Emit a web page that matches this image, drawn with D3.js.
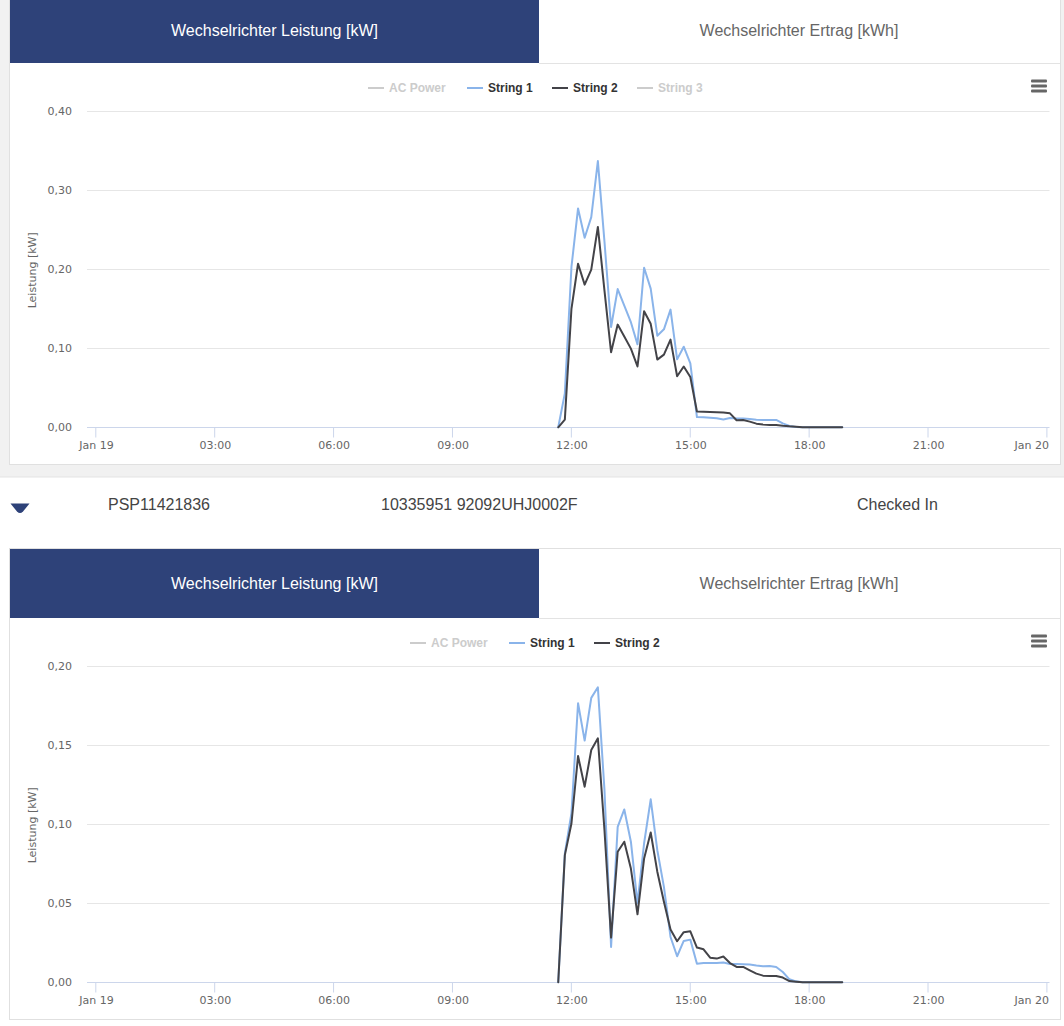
<!DOCTYPE html>
<html>
<head>
<meta charset="utf-8">
<script src="https://cdn.jsdelivr.net/npm/d3@7"></script>
<style>
  html, body { margin: 0; padding: 0; background: #fff; overflow: hidden; }
  svg { display: block; }
  .tab { font: 16px "Liberation Sans", Arial, sans-serif; text-anchor: middle; }
  .row { font: 16px "Liberation Sans", Arial, sans-serif; fill: #444; }
  .legend { font: bold 12px "Liberation Sans", Arial, sans-serif; }
  .tick text, .ytitle { font: 11px "DejaVu Sans", sans-serif; fill: #666; }
</style>
</head>
<body>
<svg id="page" width="1064" height="1026"></svg>
<script>
const TAB_LABELS = ['Wechselrichter Leistung [kW]', 'Wechselrichter Ertrag [kWh]'];
const ROW_LABELS = ['PSP11421836', '10335951 92092UHJ0002F', 'Checked In'];
const Y_TITLE = 'Leistung [kW]';

// one reading every 10 minutes, first one at 11:40
const TOP_STRING_1 = [0, .043, .203, .277, .240, .266, .337, .235, .127, .175, .154, .133, .105, .202, .1755, .116, .124, .149, .086, .102, .081,
  .013, .0127, .012, .0114, .010, .0118, .011, .011, .0105, .0097, .0093, .0093, .0093, .005, .0017, .0004, 0, 0, 0, 0, 0, 0, 0];
const TOP_STRING_2 = [0, .0097, .150, .207, .1806, .1996, .2536, .173, .095, .130, .115, .0996, .077, .147, .131, .0857, .092, .111, .0646, .077, .0637,
  .0200, .0198, .0194, .019, .0186, .0177, .0089, .0093, .0072, .0046, .0034, .003, .003, .002, .0013, .0008, .0002, 0, 0, 0, 0, 0, 0];
const BOTTOM_STRING_1 = [0, .0815, .107, .1766, .153, .180, .1867, .1217, .0224, .0984, .1094, .089, .05, .088, .1158, .0836, .0604, .0287, .0165, .0262, .027,
  .0118, .0122, .0122, .0122, .0125, .0116, .0116, .0114, .0112, .0106, .0101, .0103, .0097, .0065, .0019, .0006, 0, 0, 0, 0, 0, 0, 0];
const BOTTOM_STRING_2 = [0, .0805, .1005, .1432, .1238, .147, .1544, .0963, .0283, .0826, .089, .072, .043, .0784, .0948, .07, .051, .0334, .026, .0317, .0323,
  .022, .0209, .0156, .015, .0163, .0122, .0097, .0097, .0076, .0055, .0042, .004, .004, .003, .0008, .0004, 0, 0, 0, 0, 0, 0, 0];

const TOP_Y_TICKS = [0, .1, .2, .3, .4];
const BOTTOM_Y_TICKS = [0, .05, .1, .15, .2];
const TOP_LEGEND = ['AC Power', 'String 1', 'String 2', 'String 3'];
const BOTTOM_LEGEND = ['AC Power', 'String 1', 'String 2'];

const NAVY = '#2e4279';
const SERIES_COLOR = { 'String 1': '#8ab4ea', 'String 2': '#434348' };

const firstReading = new Date(Date.UTC(2020, 0, 19, 11, 40));
const dayStart = new Date(Date.UTC(2020, 0, 19));
const dayEnd = new Date(Date.UTC(2020, 0, 20));

const x = d3.scaleUtc().domain([dayStart, dayEnd]).range([95.3, 1046.4]);
const fmtComma = d3.format('.2f');
const xTickFormat = d => +d === +dayStart ? 'Jan 19' : +d === +dayEnd ? 'Jan 20' : d3.utcFormat('%H:%M')(d);

const svg = d3.select('#page');

function drawTabs(g, height, textY) {
  g.append('rect').attr('x', 10).attr('y', 0).attr('width', 529).attr('height', height).attr('fill', NAVY);
  g.append('rect').attr('x', 539).attr('y', 0).attr('width', 521).attr('height', height).attr('fill', '#fff');
  g.append('line').attr('x1', 539).attr('x2', 1060).attr('y1', height + .5).attr('y2', height + .5).attr('stroke', '#e3e3e3');
  g.append('text').attr('class', 'tab').attr('x', 274.5).attr('y', textY).attr('fill', '#fff').text(TAB_LABELS[0]);
  g.append('text').attr('class', 'tab').attr('x', 799).attr('y', textY).attr('fill', '#666').text(TAB_LABELS[1]);
}

function drawChart(cfg) {
  const y = d3.scaleLinear().domain([0, cfg.yTicks[cfg.yTicks.length - 1]]).range([cfg.y0, cfg.y1]);

  const grid = svg.append('g');
  grid.selectAll('line').data(cfg.yTicks.slice(1)).join('line')
    .attr('x1', 87).attr('x2', 1049.5)
    .attr('y1', d => Math.round(y(d)) + .5).attr('y2', d => Math.round(y(d)) + .5)
    .attr('stroke', '#e6e6e6');

  const yAxis = svg.append('g').attr('transform', 'translate(87,0)')
    .call(d3.axisLeft(y).tickValues(cfg.yTicks).tickSize(0).tickPadding(15)
      .tickFormat(d => fmtComma(d).replace('.', ',')));
  yAxis.select('.domain').remove();

  const xAxis = svg.append('g').attr('transform', `translate(0,${Math.round(cfg.y0) + .5})`)
    .call(d3.axisBottom(x).tickValues(d3.utcHour.range(dayStart, d3.utcHour.offset(dayEnd, 1), 3))
      .tickSize(10).tickPadding(4).tickFormat(xTickFormat));
  xAxis.select('.domain').attr('d', 'M87,0H1049.5').attr('stroke', '#ccd6eb');
  xAxis.selectAll('.tick line').attr('stroke', '#ccd6eb');
  xAxis.selectAll('.tick text').attr('dx', .6);
  xAxis.selectAll('.tick text').filter(d => +d === +dayEnd).attr('text-anchor', 'end').attr('dx', 2);

  svg.append('text').attr('class', 'ytitle')
    .attr('transform', `translate(36,${(cfg.y0 + cfg.y1) / 2 + 1}) rotate(-90)`)
    .attr('text-anchor', 'middle').text(Y_TITLE);

  const line = d3.line()
    .x((d, i) => x(d3.utcMinute.offset(firstReading, i * 10)) + .6)
    .y(d => y(d));
  cfg.series.forEach(s => {
    svg.append('path').datum(s.values)
      .attr('d', line).attr('fill', 'none')
      .attr('stroke', SERIES_COLOR[s.name]).attr('stroke-width', 2)
      .attr('stroke-linejoin', 'round').attr('stroke-linecap', 'round');
  });

  // legend, hidden series are greyed out
  const legend = svg.append('g').attr('class', 'legend');
  cfg.legend.forEach((name, i) => {
    const lx = cfg.legendX[i];
    const active = name in SERIES_COLOR;
    legend.append('line').attr('x1', lx).attr('x2', lx + 16).attr('y1', cfg.legendY).attr('y2', cfg.legendY)
      .attr('stroke', active ? SERIES_COLOR[name] : '#ccc').attr('stroke-width', 2);
    legend.append('text').attr('x', lx + 21).attr('y', cfg.legendY + 4)
      .attr('fill', active ? '#333' : '#ccc').text(name);
  });

  // context menu icon
  svg.append('g').selectAll('rect').data([0, 5, 10]).join('rect')
    .attr('x', 1031).attr('y', d => cfg.legendY - 8.5 + d).attr('width', 16).attr('height', 3).attr('rx', 1)
    .attr('fill', '#666');
}

// page background and cards
svg.append('rect').attr('width', 1064).attr('height', 477).attr('fill', '#f1f1f1');
svg.append('line').attr('x1', 0).attr('x2', 1064).attr('y1', 477).attr('y2', 477).attr('stroke', '#e3e3e3');
svg.append('rect').attr('x', 9.5).attr('y', 0).attr('width', 1051).attr('height', 464.5).attr('fill', '#fff').attr('stroke', '#e0e0e0');
svg.append('rect').attr('x', 9.5).attr('y', 548.5).attr('width', 1051).attr('height', 471).attr('fill', '#fff').attr('stroke', '#e0e0e0');

drawTabs(svg.append('g'), 63, 35.5);
drawTabs(svg.append('g').attr('transform', 'translate(0,549)'), 69, 40);

drawChart({
  y0: 427.3, y1: 111.3, yTicks: TOP_Y_TICKS, legend: TOP_LEGEND,
  legendX: [368, 467, 552, 637], legendY: 88,
  series: [{ name: 'String 1', values: TOP_STRING_1 }, { name: 'String 2', values: TOP_STRING_2 }]
});
drawChart({
  y0: 982.3, y1: 666.3, yTicks: BOTTOM_Y_TICKS, legend: BOTTOM_LEGEND,
  legendX: [410, 509, 594], legendY: 643,
  series: [{ name: 'String 1', values: BOTTOM_STRING_1 }, { name: 'String 2', values: BOTTOM_STRING_2 }]
});

// device row between the two panels
svg.append('path').attr('d', 'M10.5,503.5H29.5L23,511.5Q20,514.5 17,511.5Z').attr('fill', NAVY);
svg.selectAll('.row').data(ROW_LABELS).join('text').attr('class', 'row')
  .attr('x', (d, i) => [108, 381, 857][i]).attr('y', 510).text(d => d);
</script>
</body>
</html>
